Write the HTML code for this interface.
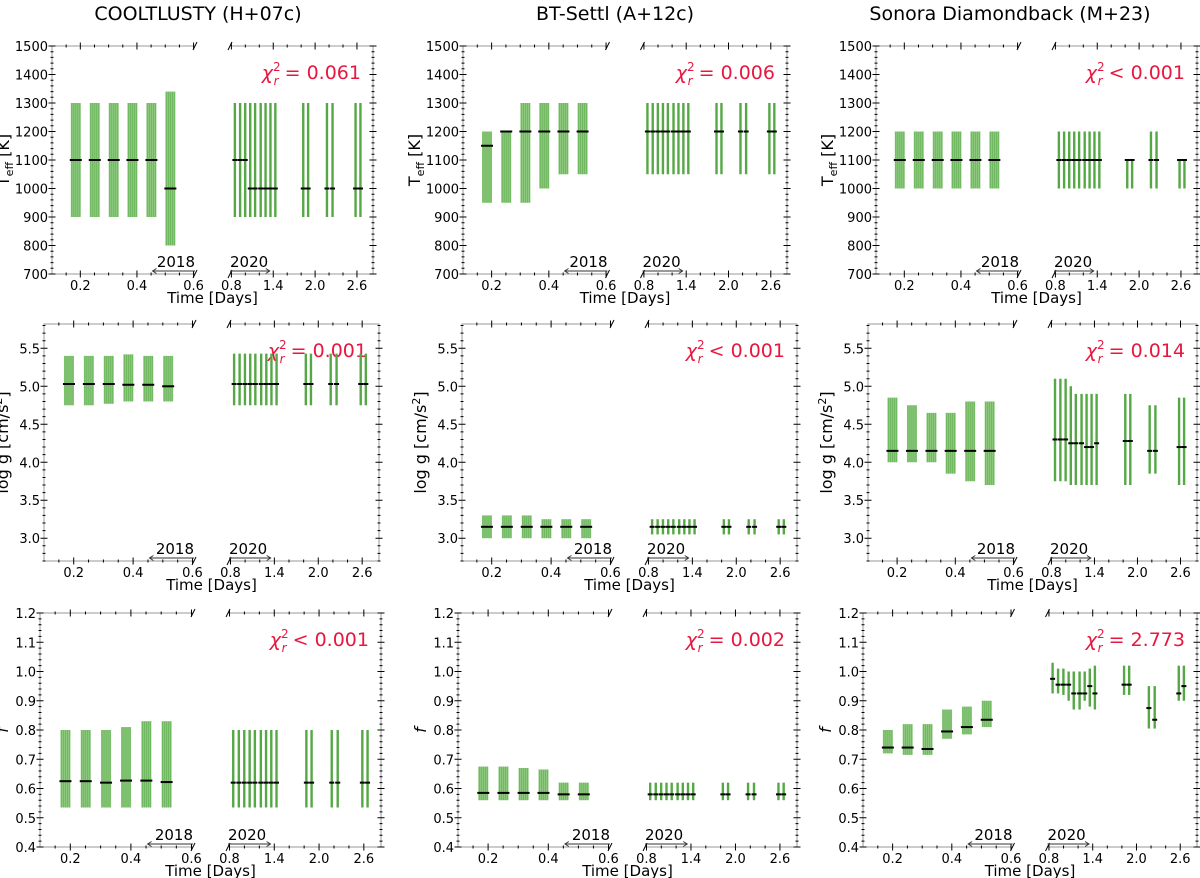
<!DOCTYPE html>
<html><head><meta charset="utf-8"><style>
body{margin:0;background:#fff;}
svg{display:block;font-family:"DejaVu Sans","Liberation Sans",sans-serif;}
</style></head><body>
<svg id="fig" width="1200" height="878" viewBox="0 0 1200 878" xmlns="http://www.w3.org/2000/svg">
<text x="198" y="20" font-size="19" text-anchor="middle">COOLTLUSTY (H+07c)</text>
<text x="615" y="20" font-size="19" text-anchor="middle">BT-Settl (A+12c)</text>
<text x="1010" y="20" font-size="19" text-anchor="middle">Sonora Diamondback (M+23)</text>
</svg>
<script>
// shared times
const leftTimes = [0.184, 0.251, 0.318, 0.384, 0.451, 0.518];
const rightTimes = [0.85, 0.925, 0.998, 1.07, 1.14, 1.22, 1.29, 1.36, 1.43, 1.83, 1.90, 2.17, 2.25, 2.58, 2.65];
const chiLabels = [["= 0.061","= 0.006","< 0.001"],["= 0.001","< 0.001","= 0.014"],["< 0.001","= 0.002","= 2.773"]];
// Row 1: Teff
const teffC1L=[1100,1100,1100,1100,1100,1000], teffC1Lo=[900,900,900,900,900,800], teffC1Hi=[1300,1300,1300,1300,1300,1340];
const teffC1R=[1100,1100,1100,1000,1000,1000,1000,1000,1000,1000,1000,1000,1000,1000,1000], teffC1RLo=[900,900,900,900,900,900,900,900,900,900,900,900,900,900,900], teffC1RHi=[1300,1300,1300,1300,1300,1300,1300,1300,1300,1300,1300,1300,1300,1300,1300];
const teffC2L=[1150,1200,1200,1200,1200,1200], teffC2Lo=[950,950,950,1000,1050,1050], teffC2Hi=[1200,1200,1300,1300,1300,1300];
const teffC2R=[1200,1200,1200,1200,1200,1200,1200,1200,1200,1200,1200,1200,1200,1200,1200], teffC2RLo=[1050,1050,1050,1050,1050,1050,1050,1050,1050,1050,1050,1050,1050,1050,1050], teffC2RHi=[1300,1300,1300,1300,1300,1300,1300,1300,1300,1300,1300,1300,1300,1300,1300];
const teffC3L=[1100,1100,1100,1100,1100,1100], teffC3Lo=[1000,1000,1000,1000,1000,1000], teffC3Hi=[1200,1200,1200,1200,1200,1200];
const teffC3R=[1100,1100,1100,1100,1100,1100,1100,1100,1100,1100,1100,1100,1100,1100,1100], teffC3RLo=[1000,1000,1000,1000,1000,1000,1000,1000,1000,1000,1000,1000,1000,1000,1000], teffC3RHi=[1200,1200,1200,1200,1200,1200,1200,1200,1200,1100,1100,1200,1200,1100,1100];
// Row 2: log g
const gC1L=[5.03,5.03,5.03,5.02,5.02,5.0], gC1Lo=[4.75,4.75,4.77,4.8,4.8,4.8], gC1Hi=[5.4,5.4,5.4,5.42,5.4,5.4];
const gC1R=[5.03,5.03,5.03,5.03,5.03,5.03,5.03,5.03,5.03,5.03,5.03,5.03,5.03,5.03,5.03], gC1RLo=[4.75,4.75,4.75,4.75,4.75,4.75,4.75,4.75,4.75,4.75,4.75,4.75,4.75,4.75,4.75], gC1RHi=[5.43,5.43,5.43,5.43,5.43,5.43,5.43,5.43,5.43,5.43,5.43,5.43,5.43,5.43,5.43];
const gC2L=[3.15,3.15,3.15,3.15,3.15,3.15], gC2Lo=[3.0,3.0,3.0,3.0,3.0,3.0], gC2Hi=[3.3,3.3,3.3,3.25,3.25,3.25];
const gC2R=[3.15,3.15,3.15,3.15,3.15,3.15,3.15,3.15,3.15,3.15,3.15,3.15,3.15,3.15,3.15], gC2RLo=[3.05,3.05,3.05,3.05,3.05,3.05,3.05,3.05,3.05,3.05,3.05,3.05,3.05,3.05,3.05], gC2RHi=[3.25,3.25,3.25,3.25,3.25,3.25,3.25,3.25,3.25,3.25,3.25,3.25,3.25,3.25,3.25];
const gC3L=[4.15,4.15,4.15,4.15,4.15,4.15], gC3Lo=[4.0,4.0,4.0,3.85,3.75,3.7], gC3Hi=[4.85,4.75,4.65,4.65,4.8,4.8];
const gC3R=[4.3,4.3,4.3,4.25,4.25,4.25,4.2,4.2,4.25,4.28,4.28,4.15,4.15,4.2,4.2], gC3RLo=[3.75,3.75,3.75,3.7,3.7,3.7,3.7,3.7,3.7,3.7,3.7,3.85,3.85,3.7,3.7], gC3RHi=[5.1,5.1,5.1,5.0,4.9,4.9,4.9,4.9,4.9,4.9,4.9,4.75,4.75,4.85,4.85];
// Row 3: f
const fC1L=[0.625,0.625,0.62,0.627,0.627,0.622], fC1Lo=[0.535,0.535,0.535,0.535,0.535,0.535], fC1Hi=[0.8,0.8,0.8,0.81,0.83,0.83];
const fC1R=[0.62,0.62,0.62,0.62,0.62,0.62,0.62,0.62,0.62,0.62,0.62,0.62,0.62,0.62,0.62], fC1RLo=[0.535,0.535,0.535,0.535,0.535,0.535,0.535,0.535,0.535,0.535,0.535,0.535,0.535,0.535,0.535], fC1RHi=[0.8,0.8,0.8,0.8,0.8,0.8,0.8,0.8,0.8,0.8,0.8,0.8,0.8,0.8,0.8];
const fC2L=[0.585,0.585,0.585,0.585,0.58,0.58], fC2Lo=[0.56,0.56,0.56,0.56,0.56,0.56], fC2Hi=[0.675,0.675,0.67,0.665,0.62,0.62];
const fC2R=[0.58,0.58,0.58,0.58,0.58,0.58,0.58,0.58,0.58,0.58,0.58,0.58,0.58,0.58,0.58], fC2RLo=[0.56,0.56,0.56,0.56,0.56,0.56,0.56,0.56,0.56,0.56,0.56,0.56,0.56,0.56,0.56], fC2RHi=[0.62,0.62,0.62,0.62,0.62,0.62,0.62,0.62,0.62,0.62,0.62,0.62,0.62,0.62,0.62];
const fC3L=[0.74,0.74,0.735,0.795,0.81,0.835], fC3Lo=[0.72,0.715,0.715,0.77,0.785,0.81], fC3Hi=[0.80,0.82,0.82,0.87,0.88,0.90];
const fC3R=[0.975,0.955,0.955,0.955,0.925,0.925,0.925,0.95,0.925,0.955,0.955,0.875,0.835,0.925,0.95], fC3RLo=[0.925,0.925,0.92,0.9,0.87,0.87,0.9,0.88,0.87,0.92,0.92,0.805,0.805,0.9,0.9], fC3RHi=[1.03,1.01,1.01,1.0,1.0,1.0,1.0,1.01,1.02,1.02,1.02,0.95,0.95,1.02,1.02];

const yTicksTeff=[700,800,900,1000,1100,1200,1300,1400,1500];
const yTicksG=[3.0,3.5,4.0,4.5,5.0,5.5];
const yTicksF=[0.4,0.5,0.6,0.7,0.8,0.9,1.0,1.1,1.2];
const xTicksLeft=[0.2,0.4,0.6], xTicksRight=[0.8,1.4,2.0,2.6];

const rows=[
 {yT:46,yB:274,ymin:700,ymax:1500,ticks:yTicksTeff,minor:20,fmt:v=>String(v),label:'teff',lo:43,xs:[[52,373],[463,787],[876,1197]],
  data:[[teffC1L,teffC1Lo,teffC1Hi,teffC1R,teffC1RLo,teffC1RHi],[teffC2L,teffC2Lo,teffC2Hi,teffC2R,teffC2RLo,teffC2RHi],[teffC3L,teffC3Lo,teffC3Hi,teffC3R,teffC3RLo,teffC3RHi]]},
 {yT:324,yB:561,ymin:2.70,ymax:5.82,ticks:yTicksG,minor:0.1,fmt:v=>v.toFixed(1),label:'logg',lo:36,xs:[[44,379],[462,797],[868,1197]],
  data:[[gC1L,gC1Lo,gC1Hi,gC1R,gC1RLo,gC1RHi],[gC2L,gC2Lo,gC2Hi,gC2R,gC2RLo,gC2RHi],[gC3L,gC3Lo,gC3Hi,gC3R,gC3RLo,gC3RHi]]},
 {yT:613,yB:847,ymin:0.4,ymax:1.2,ticks:yTicksF,minor:0.02,fmt:v=>v.toFixed(1),label:'f',lo:32,xs:[[40,381],[458,797],[863,1197]],
  data:[[fC1L,fC1Lo,fC1Hi,fC1R,fC1RLo,fC1RHi],[fC2L,fC2Lo,fC2Hi,fC2R,fC2RLo,fC2RHi],[fC3L,fC3Lo,fC3Hi,fC3R,fC3RLo,fC3RHi]]}
];
const NS='http://www.w3.org/2000/svg';
const svg=document.getElementById('fig');
function mk(tag,attrs,parent,txt){const e=document.createElementNS(NS,tag);for(const k in attrs)e.setAttribute(k,attrs[k]);if(txt!==undefined)e.textContent=txt;(parent||svg).appendChild(e);return e;}
const GREEN='#55a845', LGREEN='#8cc97d', SP='#9a9a9a';

rows.forEach((row,ri)=>{
 row.xs.forEach((xx,ci)=>{
  const g=mk('g',{});
  
  
  const xL=xx[0], xE=xx[1], gap=35, w=(xE-xL-gap)/2;
  const xB=xL+w, xR=xB+gap;
  const LX0=0.1,LX1=0.605,RX0=0.78,RX1=2.83;
  const xl=t=>xL+(t-LX0)/(LX1-LX0)*w;
  const xr=t=>xR+(t-RX0)/(RX1-RX0)*w;
  const y=v=>row.yB-(v-row.ymin)/(row.ymax-row.ymin)*(row.yB-row.yT);
  const sp=mk('path',{d:`M${xB},${row.yT}H${xL}V${row.yB}H${xB}M${xR},${row.yT}H${xE}V${row.yB}H${xR}`,fill:'none',stroke:SP,'stroke-width':1},g);
  
  
  [[xB,row.yT],[xB,row.yB],[xR,row.yT],[xR,row.yB]].forEach(p=>mk('line',{x1:p[0]-2,y1:p[1]+4,x2:p[0]+2,y2:p[1]-4,stroke:'#000','stroke-width':1},g));
  let tk='';
  for(let v=row.ymin;v<=row.ymax+1e-9;v+=row.minor){const yy=y(v);tk+=`M${xL-1.5},${yy}h3M${xE-1.5},${yy}h3`;}
  row.ticks.forEach(v=>{const yy=y(v);tk+=`M${xL-3.5},${yy}h7M${xE-3.5},${yy}h7`;});
  for(let t=0.15;t<=0.6001;t+=0.05){const X=xl(t);tk+=`M${X},${row.yT-1.5}v3M${X},${row.yB-1.5}v3`;}
  for(let t=0.8;t<=2.8;t+=0.2){const X=xr(t);tk+=`M${X},${row.yT-1.5}v3M${X},${row.yB-1.5}v3`;}
  xTicksLeft.forEach(t=>{const X=xl(t);tk+=`M${X},${row.yT-3.5}v7M${X},${row.yB-3.5}v7`;});
  xTicksRight.forEach(t=>{const X=xr(t);tk+=`M${X},${row.yT-3.5}v7M${X},${row.yB-3.5}v7`;});
  mk('path',{d:tk,stroke:'#000','stroke-width':1,fill:'none'},g);
  row.ticks.forEach(v=>{const t=mk('text',{x:xL-4,y:y(v)+5,'font-size':13,'text-anchor':'end'},g,row.fmt(v));
   
   });
  xTicksLeft.forEach(t=>{const e=mk('text',{x:xl(t),y:row.yB+16,'font-size':13,'text-anchor':'middle'},g,t.toFixed(1));
   
   });
  xTicksRight.forEach(t=>{const e=mk('text',{x:xr(t),y:row.yB+16,'font-size':13,'text-anchor':'middle'},g,t.toFixed(1));
   
   });
  const xlab=mk('text',{x:(xL+xE)/2,y:row.yB+29,'font-size':15,'text-anchor':'middle'},g,'Time [Days]');
  
  
  const lx=xL-row.lo, ly=(row.yT+row.yB)/2;
  let yl;
  if(row.label==='teff'){yl=mk('text',{x:lx,y:ly,'font-size':16,'text-anchor':'middle',transform:`rotate(-90 ${lx} ${ly})`},g);
   yl.innerHTML='T<tspan font-size="11" dy="4">eff</tspan><tspan dy="-4"> [K]</tspan>';}
  else if(row.label==='logg'){yl=mk('text',{x:lx,y:ly,'font-size':16,'text-anchor':'middle',transform:`rotate(-90 ${lx} ${ly})`},g);
   yl.innerHTML='log g [cm/s<tspan font-size="11" dy="-6">2</tspan><tspan dy="6">]</tspan>';}
  else {yl=mk('text',{x:lx,y:ly,'font-size':16,'font-style':'italic','text-anchor':'middle',transform:`rotate(-90 ${lx} ${ly})`},g,'f');}
  
  
  const y18=mk('text',{x:xB,y:row.yB-7,'font-size':15,'text-anchor':'end'},g,'2018');
  
  
  mk('path',{d:`M${xl(0.455)},${row.yB-3}H${xB}M${xl(0.455)+4},${row.yB-5.5}L${xl(0.455)},${row.yB-3}L${xl(0.455)+4},${row.yB-0.5}`,stroke:'#333','stroke-width':0.9,fill:'none'},g);
  const y20=mk('text',{x:xR,y:row.yB-7,'font-size':15,'text-anchor':'start'},g,'2020');
  
  
  mk('path',{d:`M${xR},${row.yB-3}H${xr(1.35)}M${xr(1.35)-4},${row.yB-5.5}L${xr(1.35)},${row.yB-3}L${xr(1.35)-4},${row.yB-0.5}`,stroke:'#333','stroke-width':0.9,fill:'none'},g);
  const ch=mk('text',{x:xE-12,y:row.yT+33,'font-size':19,'text-anchor':'end',fill:'#e8173f'},g);
  ch.innerHTML='<tspan font-style="italic">χ</tspan><tspan font-size="12" dy="-8">2</tspan><tspan font-size="12" font-style="italic" dx="-7" dy="14">r</tspan><tspan dy="-6"> '+chiLabels[ri][ci]+'</tspan>';
  
  
  const d=row.data[ci];
  const [cL,loL,hiL,cR,loR,hiR]=d;
  leftTimes.forEach((t,i)=>{
   const X=xl(t);
   const band=mk('rect',{x:X-5,y:y(hiL[i]),width:10,height:y(loL[i])-y(hiL[i]),fill:LGREEN},g);
   
   
   for(let k=-4;k<=4;k+=2){mk('line',{x1:X+k,x2:X+k,y1:y(hiL[i]),y2:y(loL[i]),stroke:GREEN,'stroke-width':0.7,opacity:0.7},g);}
   const m=mk('line',{x1:X-6,x2:X+6,y1:y(cL[i]),y2:y(cL[i]),stroke:'#000','stroke-width':2},g);
   
   
  });
  rightTimes.forEach((t,i)=>{
   const X=xr(t);
   const bar=mk('line',{x1:X,x2:X,y1:y(hiR[i]),y2:y(loR[i]),stroke:GREEN,'stroke-width':2.4},g);
   
   
   const m=mk('line',{x1:X-2.5,x2:X+2.5,y1:y(cR[i]),y2:y(cR[i]),stroke:'#000','stroke-width':2},g);
   
   
  });
 });
});
</script>
</body></html>
